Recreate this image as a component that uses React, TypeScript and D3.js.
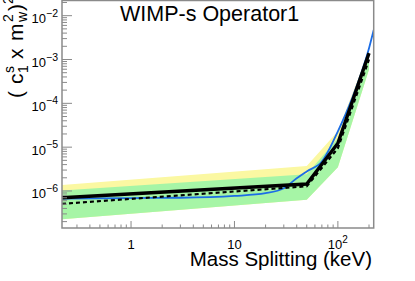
import * as d3 from 'd3';

// observed / expected limits and bands (keV, coupling^2)
const massPoints = [0.215, 50, 100, 200];
const observed = [7.0e-7, 1.44e-6, 1.23e-5, 1.4e-3];
const expected = [5.1e-7, 1.28e-6, 9.5e-6, 1.0e-3];
const band1Up = [1.02e-6, 2.4e-6, 1.6e-5, 1.5e-3];
const band1Low = [2.25e-7, 6.3e-7, 3.5e-6, 5.9e-4];
const band2Up = [1.37e-6, 3.7e-6, 2.3e-5, 1.6e-3];
const band2Low = [2.25e-7, 6.3e-7, 3.5e-6, 5.9e-4];

// comparison curve (blue)
const blueMass = [0.215, 1, 3, 10, 20, 30, 40, 50, 70, 100, 136, 200, 222];
const blueLimit = [6.7e-7, 6.9e-7, 7.0e-7, 7.7e-7, 8.9e-7, 1.15e-6, 1.95e-6, 2.8e-6, 4.7e-6, 2.3e-5, 1.23e-4, 1.8e-3, 4.7e-3];

const W = 415;
const H = 281;
const frame = { left: 62, right: 373.7, top: 0.5, bottom: 228 };
const font = 'Liberation Sans, Arial, Helvetica, sans-serif';
const axisColor = '#8a8a8a';

const App = () => {
  const x = d3.scaleLog().domain([0.215, 222]).range([frame.left, frame.right]);
  const y = d3.scaleLog().domain([1.43e-7, 2.22e-2]).range([frame.bottom, frame.top]);

  const isMajor = (v: number) => Math.abs(Math.log10(v) - Math.round(Math.log10(v))) < 1e-6;

  const line = d3
    .line<[number, number]>()
    .x((d) => x(d[0]))
    .y((d) => y(d[1]));
  const smooth = d3
    .line<[number, number]>()
    .x((d) => x(d[0]))
    .y((d) => y(d[1]))
    .curve(d3.curveMonotoneX);
  const area = (lo: number[], hi: number[]) =>
    d3
      .area<number>()
      .x((i) => x(massPoints[i]))
      .y0((i) => y(lo[i]))
      .y1((i) => y(hi[i]))(massPoints.map((_, i) => i)) as string;

  const pts = (ys: number[]) => massPoints.map((m, i) => [m, ys[i]] as [number, number]);

  const xTicks = x.ticks();
  const yTicks = y.ticks();

  return (
    <svg width={W} height={H} style={{ position: 'absolute', left: 0, top: 0, background: 'white' }} fontFamily={font}>
      <defs>
        <clipPath id="plot">
          <rect x={frame.left} y={frame.top} width={frame.right - frame.left} height={frame.bottom - frame.top} />
        </clipPath>
      </defs>

      <g clipPath="url(#plot)">
        <path d={area(band2Low, band2Up)} fill="#fbf8a2" />
        <path d={area(band1Low, band1Up)} fill="#a6f5a6" />
        <path
          d={smooth(blueMass.map((m, i) => [m, blueLimit[i]] as [number, number])) as string}
          fill="none"
          stroke="#1c6de6"
          strokeWidth={1.8}
        />
        <path d={line(pts(expected)) as string} fill="none" stroke="black" strokeWidth={2.2} strokeDasharray="4,3" />
        <path d={line(pts(observed)) as string} fill="none" stroke="black" strokeWidth={3.4} />
      </g>

      {/* frame */}
      <rect
        x={frame.left}
        y={frame.top}
        width={frame.right - frame.left}
        height={frame.bottom - frame.top}
        fill="none"
        stroke={axisColor}
        strokeWidth={1.5}
      />

      {/* x ticks */}
      {xTicks.map((t) => (
        <line
          key={'xt' + t}
          x1={x(t)}
          x2={x(t)}
          y1={frame.bottom}
          y2={frame.bottom - (isMajor(t) ? 7 : 3.5)}
          stroke={axisColor}
          strokeWidth={1}
        />
      ))}
      {xTicks.filter(isMajor).map((t) => {
        const e = Math.round(Math.log10(t));
        return (
          <text key={'xl' + t} x={x(t)} y={249} fontSize={13} textAnchor="middle">
            {e < 2 ? String(t) : '10'}
            {e >= 2 && (
              <tspan dy={-6} fontSize={10}>
                {e}
              </tspan>
            )}
          </text>
        );
      })}

      {/* y ticks */}
      {yTicks.map((t) => (
        <line
          key={'yt' + t}
          x1={frame.left}
          x2={frame.left + (isMajor(t) ? 10 : 5)}
          y1={y(t)}
          y2={y(t)}
          stroke={axisColor}
          strokeWidth={1}
        />
      ))}
      {yTicks.filter(isMajor).map((t) => {
        const e = Math.round(Math.log10(t));
        return (
          <text key={'yl' + t} x={58} y={y(t) + 7.5} fontSize={13} textAnchor="end">
            10
            <tspan dy={-6.5} fontSize={10.5}>
              {'\u2212' + Math.abs(e)}
            </tspan>
          </text>
        );
      })}

      {/* title */}
      <text x={120} y={21} fontSize={21.5}>
        WIMP-s Operator1
      </text>

      {/* axis titles */}
      <text x={372} y={266} fontSize={20.5} textAnchor="end">
        Mass Splitting (keV)
      </text>
      <text transform="translate(23,0) rotate(-90)" fontSize={21}>
        <tspan x={-98} y={0}>(</tspan>
        <tspan x={-84} y={0}>c</tspan>
        <tspan x={-73} y={-9} fontSize={14}>s</tspan>
        <tspan x={-73} y={5} fontSize={14}>1</tspan>
        <tspan x={-59} y={0}>x</tspan>
        <tspan x={-41} y={0}>m</tspan>
        <tspan x={-22} y={-10} fontSize={14}>2</tspan>
        <tspan x={-22} y={4} fontSize={14}>w</tspan>
        <tspan x={-11} y={0}>)</tspan>
        <tspan x={-4} y={-10} fontSize={14}>2</tspan>
      </text>
    </svg>
  );
};

export default App;
